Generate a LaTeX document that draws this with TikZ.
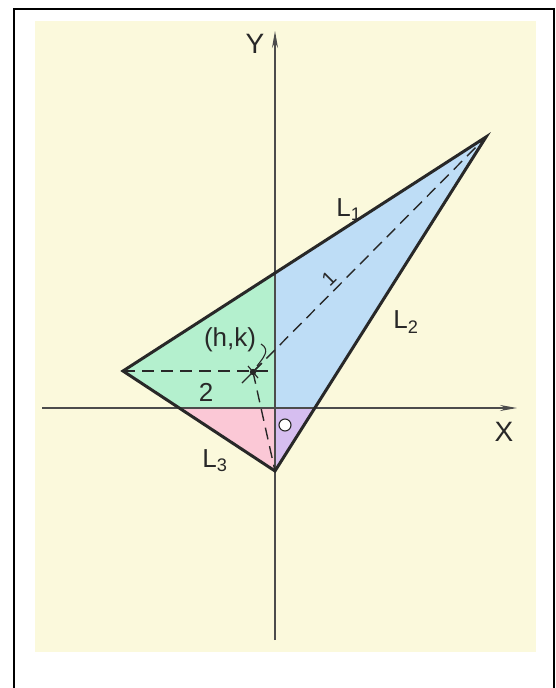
\documentclass[tikz,border=0pt]{standalone}
\usepackage{fontspec}
\setmainfont{Liberation Sans}
\usepackage{tikz}
\usetikzlibrary{arrows.meta,calc}

\definecolor{paper}{RGB}{251,249,220}
\definecolor{greenpart}{RGB}{180,240,206}
\definecolor{bluepart}{RGB}{190,221,246}
\definecolor{pinkpart}{RGB}{251,200,214}
\definecolor{purplepart}{RGB}{214,190,240}
\definecolor{ink}{RGB}{40,40,40}

\begin{document}
\begin{tikzpicture}[x=1pt,y=-1pt,
    side/.style={ink,line width=3pt,line join=miter},
    axis/.style={black!70,line width=1.2pt,-{Stealth[length=17pt,width=6pt]}},
    guide/.style={ink,line width=1.4pt,dash pattern=on 12pt off 7pt},
    lbl/.style={ink,font=\fontsize{26}{28}\selectfont,inner sep=0pt}]

\useasboundingbox (0,0) rectangle (556,688);

% Frame and paper
\draw[line width=2pt] (14,688) -- (14,9) -- (554,9) -- (554,688);
\fill[paper] (35,21) rectangle (536,652);

% Vertices and crossing points
\coordinate (A) at (486,137);
\coordinate (B) at (123,371);
\coordinate (C) at (275,471);
\coordinate (O) at (275,408);
\coordinate (P) at (253,372);
\coordinate (Q1) at (275,273);
\coordinate (Q2) at (179,408);
\coordinate (Q3) at (315,408);

% Quadrant pieces of the triangle
\fill[greenpart] (B) -- (Q1) -- (O) -- (Q2) -- cycle;
\fill[bluepart] (Q1) -- (A) -- (Q3) -- (O) -- cycle;
\fill[pinkpart] (Q2) -- (O) -- (C) -- cycle;
\fill[purplepart] (O) -- (Q3) -- (C) -- cycle;

% Axes
\coordinate (xl) at (42,408);
\coordinate (xr) at (517,408);
\coordinate (yb) at (275,640);
\coordinate (yt) at (275,31);
\draw[axis] (xl) -- (xr);
\draw[axis] (yb) -- (yt);
\node[lbl,font=\fontsize{28}{30}\selectfont] (ylab) at (255,44) {Y};
\node[lbl,font=\fontsize{28}{30}\selectfont] (xlab) at (504,432) {X};

% Dashed lines through (h,k)
\coordinate (yk) at (275,371);
\draw[guide] (B) -- (yk);
\draw[guide] (P) -- (A);
\draw[guide] (P) -- (C);

% Sides
\draw[side] (A) -- (B) -- (C) -- cycle;

% Point (h,k)
\fill[ink] (P) circle (3.2pt);
\draw[ink,line width=1.2pt] ($(P)+(-11,11)$) -- ($(P)+(9,-9)$);
\draw[ink,line width=1.2pt] ($(P)+(-5,-6)$) -- ($(P)+(5,6)$);
\draw[ink,line width=1.1pt] (261,344) .. controls (271,350) and (263,358) .. (257,366);

% Labels
\node[lbl] (hk) at (230,340) {(h,k)};
\node[lbl] (two) at (206,392) {2};
\node[lbl,rotate=45] (one) at (329,279) {\fontsize{20}{22}\selectfont 1};
\node[lbl] (l1) at (349,210) {L\textsubscript{1}};
\node[lbl] (l2) at (406,322) {L\textsubscript{2}};
\node[lbl] (l3) at (215,461) {L\textsubscript{3}};
\node[ink,circle,draw,fill=white,line width=1.1pt,minimum size=12pt,inner sep=0pt] (o) at (285,425) {};

\end{tikzpicture}
\end{document}
